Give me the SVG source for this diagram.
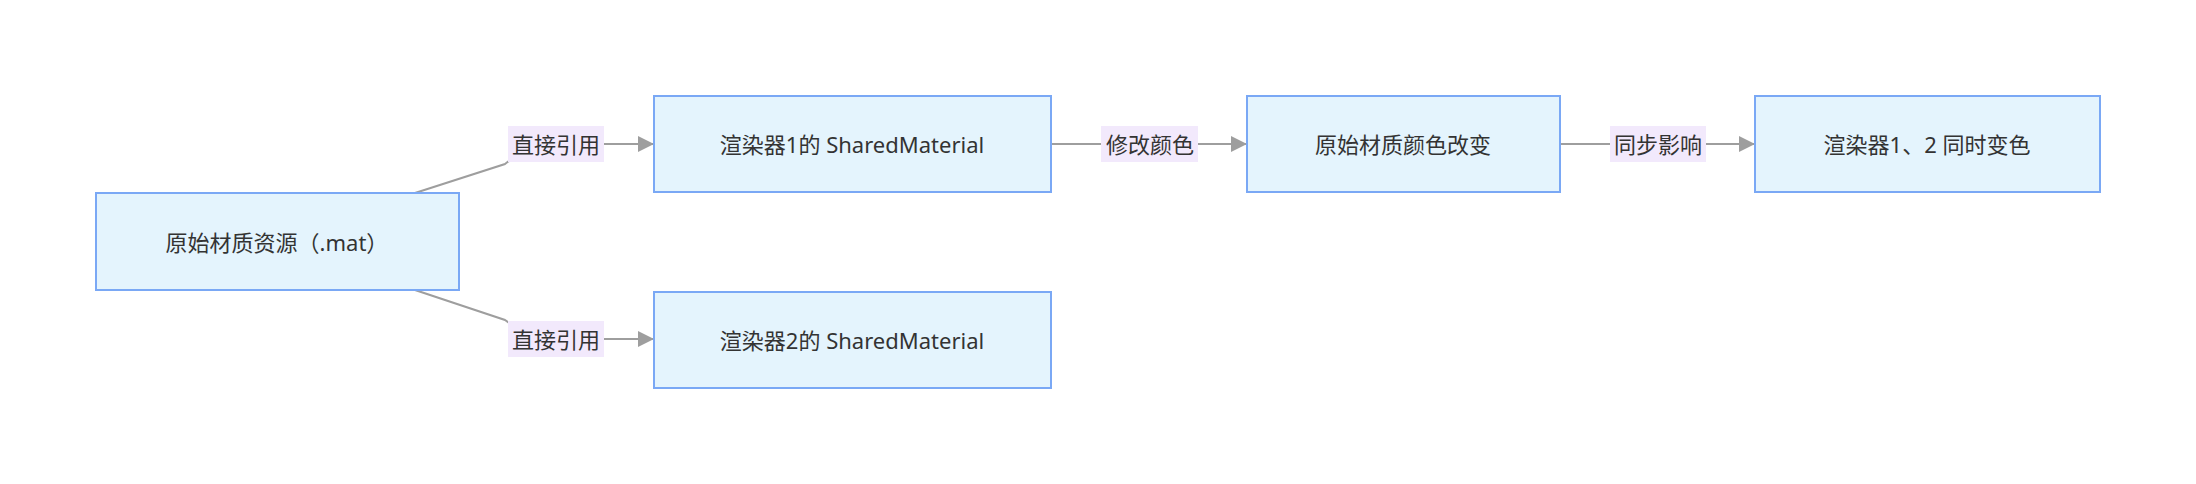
<svg xmlns="http://www.w3.org/2000/svg" width="2196" height="484" viewBox="0 0 2196 484">
<defs>
<style>
.n{fill:#e4f4fd;stroke:#7aa8f5;stroke-width:2}
.t{font-family:"Noto Sans","Noto Sans CJK SC",sans-serif;font-size:22px;fill:#333;text-anchor:middle;dominant-baseline:central}
.e{fill:none;stroke:#9e9e9e;stroke-width:2}
.lb{fill:#f2e9fc}
</style>
<marker id="a" viewBox="0 0 10 10" refX="10" refY="5" markerWidth="8" markerHeight="8" orient="auto" markerUnits="userSpaceOnUse"><path d="M0,0L10,5L0,10z" fill="#9e9e9e" transform="scale(1)"/></marker>
<marker id="b" viewBox="0 0 10 10" refX="10" refY="5" markerWidth="16" markerHeight="16" orient="auto" markerUnits="userSpaceOnUse"><path d="M0,0L10,5L0,10z" fill="#9e9e9e"/></marker>
</defs>
<rect width="2196" height="484" fill="#fff"/>
<g id="edges">
<path class="e" marker-end="url(#b)" d="M415,193 L505,164 Q530,144 560,144 L654,144"/>
<path class="e" marker-end="url(#b)" d="M415,290 L505,320 Q530,339 560,339 L654,339"/>
<path class="e" marker-end="url(#b)" d="M1051,144 L1247,144"/>
<path class="e" marker-end="url(#b)" d="M1560,144 L1755,144"/>
<rect class="lb" x="508" y="126" width="96" height="36"/><text class="t" x="556" y="144">直接引用</text>
<rect class="lb" x="508" y="321" width="96" height="36"/><text class="t" x="556" y="339">直接引用</text>
<rect class="lb" x="1101" y="126" width="97" height="36"/><text class="t" x="1150" y="144">修改颜色</text>
<rect class="lb" x="1610" y="126" width="96" height="36"/><text class="t" x="1658" y="144">同步影响</text>
</g>
<g id="A"><rect class="n" x="96" y="193" width="363" height="97"/><text class="t" x="277" y="242">原始材质资源（.mat）</text></g>
<g id="B"><rect class="n" x="654" y="96" width="397" height="96"/><text class="t" x="852" y="144">渲染器1的 SharedMaterial</text></g>
<g id="C"><rect class="n" x="654" y="292" width="397" height="96"/><text class="t" x="852" y="340">渲染器2的 SharedMaterial</text></g>
<g id="D"><rect class="n" x="1247" y="96" width="313" height="96"/><text class="t" x="1403" y="144">原始材质颜色改变</text></g>
<g id="E"><rect class="n" x="1755" y="96" width="345" height="96"/><text class="t" x="1927" y="144">渲染器1、2 同时变色</text></g>
</svg>
